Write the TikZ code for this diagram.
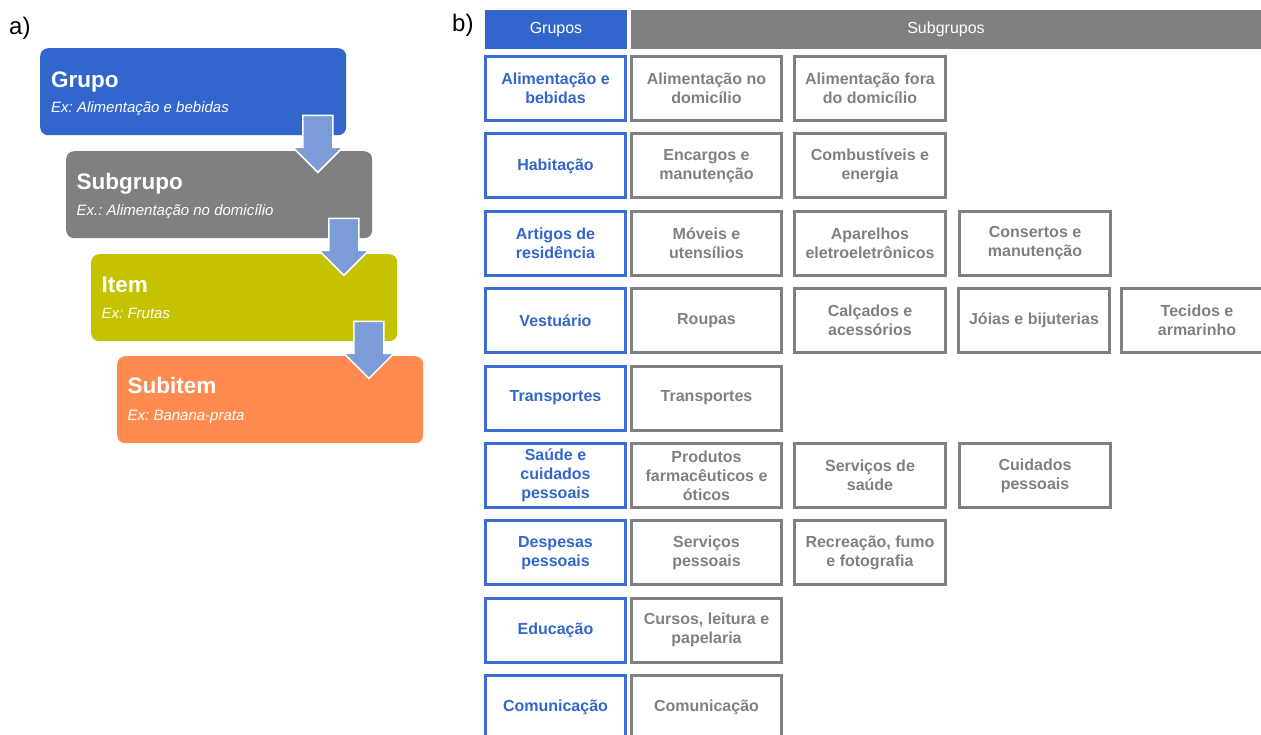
\documentclass[tikz,border=0pt]{standalone}
\usepackage{fontspec}
\setmainfont{Liberation Sans}
\frenchspacing
\definecolor{grpblue}{HTML}{3366CC}
\definecolor{boxblue}{HTML}{3C6DD6}
\definecolor{midgray}{HTML}{808080}
\definecolor{olive}{HTML}{C5C300}
\definecolor{salmon}{HTML}{FF8B50}
\definecolor{arrowblue}{HTML}{7B9CD6}
\newcommand{\levelarrow}[1]{%
  \filldraw[lvlarrow] ([xshift=-43.5pt,yshift=20pt]#1.south east)
    -- ++(30,0) -- ++(0,32) -- ++(10,0) -- ++(-25,25) -- ++(-25,-25)
    -- ++(10,0) -- cycle;}
\begin{document}
\begin{tikzpicture}[x=1pt,y=-1pt,
  lvbox/.style={rectangle, rounded corners=8pt, minimum width=306pt,
    minimum height=87pt, anchor=north west, inner sep=0pt},
  lvtitle/.style={anchor=base west, inner sep=0pt, text=white,
    font=\bfseries\fontsize{22.5}{26}\selectfont},
  lvex/.style={anchor=base west, inner sep=0pt, text=white,
    font=\itshape\fontsize{15}{18}\selectfont},
  lvlarrow/.style={fill=arrowblue, draw=white, line width=1.5pt},
  panel/.style={anchor=base west, inner sep=0pt,
    font=\fontsize{24}{28}\selectfont},
  hdr/.style={rectangle, inner sep=0pt, text=white, minimum height=39pt,
    font=\fontsize{16}{19}\selectfont},
  cell/.style={rectangle, line width=3pt, align=center,
    font=\bfseries\fontsize{16}{19}\selectfont,
    minimum height=64pt, inner sep=0pt},
  grp/.style={cell, draw=boxblue, text=grpblue, minimum width=140pt},
  sub/.style={cell, draw=midgray, text=midgray, minimum width=151pt},
  subA/.style={sub, minimum width=150pt}]
\useasboundingbox (0,0) rectangle (1261,734);
\clip (0,0) rectangle (1261,734);

% ---------- a) classification levels ----------
\node[panel] (pa) at (9,34) {a)};

\node[lvbox, fill=grpblue] (grupo)    at (40,48)  {};
\node[lvbox, fill=midgray] (subgrupo) at (66,151) {};
\node[lvbox, fill=olive]   (item)     at (91,254) {};
\node[lvbox, fill=salmon]  (subitem)  at (117,356) {};

\node[lvtitle] (grupo-t) at ([xshift=11pt,yshift=-39pt]grupo.north west) {Grupo};
\node[lvex] (grupo-e) at ([xshift=11pt,yshift=-64pt]grupo.north west) {Ex: Alimentação e bebidas};
\node[lvtitle] (subgrupo-t) at ([xshift=10.5pt,yshift=-38pt]subgrupo.north west) {Subgrupo};
\node[lvex] (subgrupo-e) at ([xshift=10.5pt,yshift=-64pt]subgrupo.north west) {Ex.: Alimentação no domicílio};
\node[lvtitle] (item-t) at ([xshift=10.5pt,yshift=-38pt]item.north west) {Item};
\node[lvex] (item-e) at ([xshift=10.5pt,yshift=-64pt]item.north west) {Ex: Frutas};
\node[lvtitle] (subitem-t) at ([xshift=10.5pt,yshift=-37pt]subitem.north west) {Subitem};
\node[lvex] (subitem-e) at ([xshift=10.5pt,yshift=-64pt]subitem.north west) {Ex: Banana-prata};

\levelarrow{grupo}
\levelarrow{subgrupo}
\levelarrow{item}

% ---------- b) groups and subgroups ----------
\node[panel] (pb) at (452,31) {b)};

\node[hdr, fill=grpblue, minimum width=142pt] (hg) at (556,29.5) {Grupos};
\node[hdr, fill=midgray, minimum width=630pt] (hs) at (946,29.5) {Subgrupos};

% row 1
\node[grp]  (g1)  at (555.5,88.5) {Alimentação e\\bebidas};
\node[subA] (s1a) at (706.5,88.5) {Alimentação no\\domicílio};
\node[sub]  (s1b) at (870,88.5)   {Alimentação fora\\do domicílio};
% row 2
\node[grp]  (g2)  at (555.5,165.9) {Habitação};
\node[subA] (s2a) at (706.5,165.9) {Encargos e\\manutenção};
\node[sub]  (s2b) at (870,165.9)   {Combustíveis e\\energia};
% row 3
\node[grp]  (g3)  at (555.5,243.3) {Artigos de\\residência};
\node[subA] (s3a) at (706.5,243.3) {Móveis e\\utensílios};
\node[sub]  (s3b) at (870,243.3)   {Aparelhos\\eletroeletrônicos};
\node[sub]  (s3c) at (1035,243.3)  {Consertos e\\manutenção};
% row 4
\node[grp]  (g4)  at (555.5,320.7) {Vestuário};
\node[subA] (s4a) at (706.5,320.7) {Roupas};
\node[sub]  (s4b) at (870,320.7)   {Calçados e\\acessórios};
\node[sub]  (s4c) at (1034,320.7)  {Jóias e bijuterias};
\node[sub]  (s4d) at (1197,320.7)  {Tecidos e\\armarinho};
% row 5
\node[grp]  (g5)  at (555.5,398.1) {Transportes};
\node[subA] (s5a) at (706.5,398.1) {Transportes};
% row 6
\node[grp]  (g6)  at (555.5,475.5) {Saúde e\\cuidados\\pessoais};
\node[subA] (s6a) at (706.5,475.5) {Produtos\\farmacêuticos e\\óticos};
\node[sub]  (s6b) at (870,475.5)   {Serviços de\\saúde};
\node[sub]  (s6c) at (1035,475.5)  {Cuidados\\pessoais};
% row 7
\node[grp]  (g7)  at (555.5,552.9) {Despesas\\pessoais};
\node[subA] (s7a) at (706.5,552.9) {Serviços\\pessoais};
\node[sub]  (s7b) at (870,552.9)   {Recreação, fumo\\e fotografia};
% row 8
\node[grp]  (g8)  at (555.5,630.3) {Educação};
\node[subA] (s8a) at (706.5,630.3) {Cursos, leitura e\\papelaria};
% row 9
\node[grp]  (g9)  at (555.5,707.7) {Comunicação};
\node[subA] (s9a) at (706.5,707.7) {Comunicação};
\end{tikzpicture}
\end{document}
